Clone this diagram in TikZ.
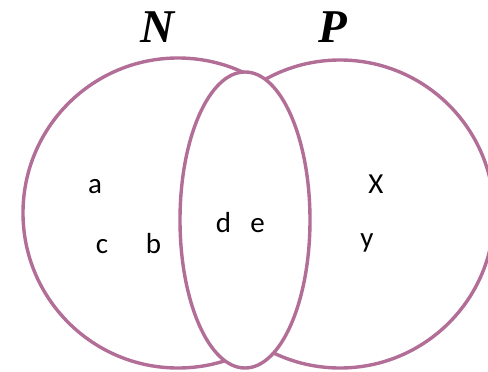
\documentclass[tikz,border=0pt]{standalone}
\usepackage{fontspec}
\setmainfont{Liberation Serif}
\newfontfamily\lblfont{Carlito}
\definecolor{setcol}{RGB}{178,110,150}
\tikzset{
  setline/.style={draw=setcol,line width=3.4pt},
  elem/.style={font=\lblfont\fontsize{29}{29}\selectfont,inner sep=0pt,anchor=base},
  title/.style={font=\fontsize{47}{47}\selectfont\bfseries\itshape,inner sep=0pt,anchor=base}
}
\begin{document}
\begin{tikzpicture}[x=1pt,y=-1pt]
\useasboundingbox (0,0) rectangle (488,372);
\clip (0,0) rectangle (488,372);
\draw[setline] (178,213) circle[radius=155];
\filldraw[setline,fill=white] (340,214) circle[radius=154];
\filldraw[setline,fill=white] (245,220) ellipse[x radius=65,y radius=148];
\node[title] (N) at (157,42) {N};
\node[title] (P) at (333,42) {P};
\node[elem] (a) at (95,193) {a};
\node[elem] (c) at (102,253) {c};
\node[elem] (b) at (153.5,253) {b};
\node[elem] (d) at (223.5,232) {d};
\node[elem] (e) at (257.5,232) {e};
\node[elem] (X) at (376,193) {X};
\node[elem] (y) at (367,247) {y};
\end{tikzpicture}
\end{document}
